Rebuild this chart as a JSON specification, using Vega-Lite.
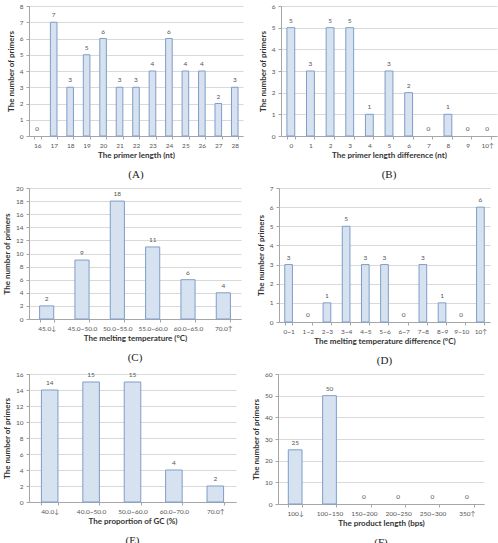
{
  "$schema": "https://vega.github.io/schema/vega-lite/v6.json",
  "background": "white",
  "padding": {"left": 3, "top": 3, "right": 2, "bottom": 0},
  "datasets": {
    "lengths": [
      {"category": "16", "count": 0}, {"category": "17", "count": 7}, {"category": "18", "count": 3},
      {"category": "19", "count": 5}, {"category": "20", "count": 6}, {"category": "21", "count": 3},
      {"category": "22", "count": 3}, {"category": "23", "count": 4}, {"category": "24", "count": 6},
      {"category": "25", "count": 4}, {"category": "26", "count": 4}, {"category": "27", "count": 2},
      {"category": "28", "count": 3}
    ],
    "lengthDiff": [
      {"category": "0", "count": 5}, {"category": "1", "count": 3}, {"category": "2", "count": 5},
      {"category": "3", "count": 5}, {"category": "4", "count": 1}, {"category": "5", "count": 3},
      {"category": "6", "count": 2}, {"category": "7", "count": 0}, {"category": "8", "count": 1},
      {"category": "9", "count": 0}, {"category": "10↑", "count": 0}
    ],
    "tm": [
      {"category": "45.0↓", "count": 2}, {"category": "45.0~50.0", "count": 9},
      {"category": "50.0~55.0", "count": 18}, {"category": "55.0~60.0", "count": 11},
      {"category": "60.0~65.0", "count": 6}, {"category": "70.0↑", "count": 4}
    ],
    "tmDiff": [
      {"category": "0~1", "count": 3}, {"category": "1~2", "count": 0}, {"category": "2~3", "count": 1},
      {"category": "3~4", "count": 5}, {"category": "4~5", "count": 3}, {"category": "5~6", "count": 3},
      {"category": "6~7", "count": 0}, {"category": "7~8", "count": 3}, {"category": "8~9", "count": 1},
      {"category": "9~10", "count": 0}, {"category": "10↑", "count": 6}
    ],
    "gc": [
      {"category": "40.0↓", "count": 14}, {"category": "40.0~50.0", "count": 15},
      {"category": "50.0~60.0", "count": 15}, {"category": "60.0~70.0", "count": 4},
      {"category": "70.0↑", "count": 2}
    ],
    "product": [
      {"category": "100↓", "count": 25}, {"category": "100~150", "count": 50},
      {"category": "150~200", "count": 0}, {"category": "200~250", "count": 0},
      {"category": "250~300", "count": 0}, {"category": "350↑", "count": 0}
    ]
  },
  "spacing": 5,
  "vconcat": [
    {
      "spacing": 16,
      "hconcat": [
        {
          "width": 214, "height": 130, "title": "(A)",
          "data": {"name": "lengths"},
          "encoding": {
            "x": {"field": "category", "type": "ordinal", "sort": null, "title": "The primer length (nt)"},
            "y": {"field": "count", "type": "quantitative", "title": "The number of primers",
                  "scale": {"domain": [0, 8]}, "axis": {"values": [0, 1, 2, 3, 4, 5, 6, 7, 8]}}
          },
          "layer": [
            {"mark": "bar", "encoding": {"strokeOpacity": {"condition": {"test": "datum.count == 0", "value": 0}, "value": 1}}},
            {"mark": {"type": "text", "baseline": "bottom", "dy": -4}, "encoding": {"text": {"field": "count"}}}
          ]
        },
        {
          "width": 216, "height": 130, "title": "(B)",
          "data": {"name": "lengthDiff"},
          "encoding": {
            "x": {"field": "category", "type": "ordinal", "sort": null, "title": "The primer length difference (nt)"},
            "y": {"field": "count", "type": "quantitative", "title": "The number of primers",
                  "scale": {"domain": [0, 6]}, "axis": {"values": [0, 1, 2, 3, 4, 5, 6]}}
          },
          "layer": [
            {"mark": "bar", "encoding": {"strokeOpacity": {"condition": {"test": "datum.count == 0", "value": 0}, "value": 1}}},
            {"mark": {"type": "text", "baseline": "bottom", "dy": -4}, "encoding": {"text": {"field": "count"}}}
          ]
        }
      ]
    },
    {
      "spacing": 16,
      "hconcat": [
        {
          "width": 212, "height": 131, "title": "(C)",
          "data": {"name": "tm"},
          "encoding": {
            "x": {"field": "category", "type": "ordinal", "sort": null, "title": "The melting temperature (°C)"},
            "y": {"field": "count", "type": "quantitative", "title": "The number of primers",
                  "scale": {"domain": [0, 20]}, "axis": {"values": [0, 2, 4, 6, 8, 10, 12, 14, 16, 18, 20]}}
          },
          "layer": [
            {"mark": "bar", "encoding": {"strokeOpacity": {"condition": {"test": "datum.count == 0", "value": 0}, "value": 1}}},
            {"mark": {"type": "text", "baseline": "bottom", "dy": -4}, "encoding": {"text": {"field": "count"}}}
          ]
        },
        {
          "width": 211, "height": 134, "title": "(D)",
          "data": {"name": "tmDiff"},
          "encoding": {
            "x": {"field": "category", "type": "ordinal", "sort": null, "title": "The melting temperature difference (°C)"},
            "y": {"field": "count", "type": "quantitative", "title": "The number of primers",
                  "scale": {"domain": [0, 7]}, "axis": {"values": [0, 1, 2, 3, 4, 5, 6, 7]}}
          },
          "layer": [
            {"mark": "bar", "encoding": {"strokeOpacity": {"condition": {"test": "datum.count == 0", "value": 0}, "value": 1}}},
            {"mark": {"type": "text", "baseline": "bottom", "dy": -4}, "encoding": {"text": {"field": "count"}}}
          ]
        }
      ]
    },
    {
      "spacing": 16,
      "hconcat": [
        {
          "width": 207, "height": 128, "title": "(E)",
          "data": {"name": "gc"},
          "encoding": {
            "x": {"field": "category", "type": "ordinal", "sort": null, "title": "The proportion of GC (%)"},
            "y": {"field": "count", "type": "quantitative", "title": "The number of primers",
                  "scale": {"domain": [0, 16]}, "axis": {"values": [0, 2, 4, 6, 8, 10, 12, 14, 16]}}
          },
          "layer": [
            {"mark": "bar", "encoding": {"strokeOpacity": {"condition": {"test": "datum.count == 0", "value": 0}, "value": 1}}},
            {"mark": {"type": "text", "baseline": "bottom", "dy": -4}, "encoding": {"text": {"field": "count"}}}
          ]
        },
        {
          "width": 206, "height": 130, "title": "(F)",
          "data": {"name": "product"},
          "encoding": {
            "x": {"field": "category", "type": "ordinal", "sort": null, "title": "The product length (bps)"},
            "y": {"field": "count", "type": "quantitative", "title": "The number of primers",
                  "scale": {"domain": [0, 60]}, "axis": {"values": [0, 10, 20, 30, 40, 50, 60]}}
          },
          "layer": [
            {"mark": "bar", "encoding": {"strokeOpacity": {"condition": {"test": "datum.count == 0", "value": 0}, "value": 1}}},
            {"mark": {"type": "text", "baseline": "bottom", "dy": -4}, "encoding": {"text": {"field": "count"}}}
          ]
        }
      ]
    }
  ],
  "config": {
    "view": {"stroke": null},
    "scale": {"bandPaddingInner": 0.6, "bandPaddingOuter": 0.3},
    "bar": {"fill": "#d6e2f0", "stroke": "#7f9dc9", "strokeWidth": 1},
    "text": {"font": "Lato", "fontSize": 6.5, "fill": "#555555"},
    "axis": {
      "labelFont": "Lato", "labelFontSize": 6.5, "labelColor": "#555555",
      "titleFont": "Lato", "titleFontSize": 8, "titleFontWeight": "bold", "titleColor": "#333333",
      "domainColor": "#a6a6a6", "tickColor": "#a6a6a6", "gridColor": "#d9d9d9", "tickSize": 3
    },
    "axisX": {"grid": false, "labelAngle": 0, "tickBand": "extent", "labelPadding": 3, "titlePadding": 3},
    "axisY": {"grid": true, "labelPadding": 3, "titlePadding": 4},
    "title": {"orient": "bottom", "font": "Liberation Serif", "fontSize": 11, "fontWeight": "normal", "color": "#222222", "offset": 9}
  }
}
